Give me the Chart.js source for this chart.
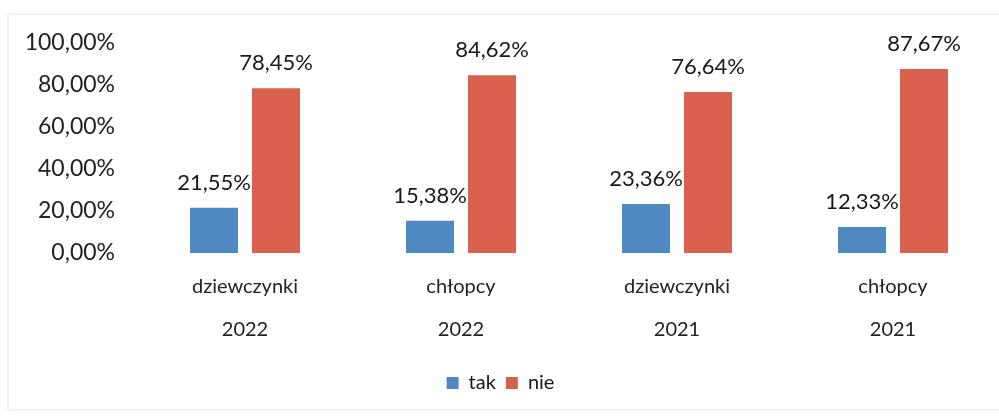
<!DOCTYPE html>
<html>
<head>
<meta charset="utf-8">
<script src="https://cdn.jsdelivr.net/npm/chart.js@4.4.1/dist/chart.umd.min.js"></script>
<style>
  html, body { margin: 0; padding: 0; background: #fff; overflow: hidden; width: 999px; height: 418px; }
  #frame { position: absolute; left: 7px; top: 13px; width: 1100px; height: 398px; border-left: 2px solid #f0f0f0; border-top: 2px solid #f3f3f3; border-bottom: 2px solid #f3f3f3; box-sizing: border-box; }
  #wrap { position: absolute; left: 0; top: 0; width: 1044px; height: 418px; }
</style>
</head>
<body>
<div id="frame"></div>
<div id="wrap"><canvas id="c" width="1044" height="418"></canvas></div>
<script>
const categories = [["dziewczynki", "2022"], ["chłopcy", "2022"], ["dziewczynki", "2021"], ["chłopcy", "2021"]];
const seriesNames = ["tak", "nie"];
const takValues = [21.55, 15.38, 23.36, 12.33];
const nieValues = [78.45, 84.62, 76.64, 87.67];
const yTicks = [0, 20, 40, 60, 80, 100];

const FONT = "Lato, 'Open Sans', sans-serif";
const fmt = v => v.toFixed(2).replace('.', ',') + '%';

const dataLabels = {
  id: 'dataLabels',
  afterDatasetsDraw(chart) {
    const ctx = chart.ctx;
    ctx.save();
    ctx.font = "22px " + FONT;
    ctx.fillStyle = '#181818';
    ctx.textAlign = 'center';
    ctx.textBaseline = 'middle';
    chart.data.datasets.forEach((ds, i) => {
      chart.getDatasetMeta(i).data.forEach((bar, j) => {
        ctx.fillText(fmt(ds.data[j]), bar.x, bar.y - 25);
      });
    });
    ctx.restore();
  }
};

new Chart(document.getElementById('c'), {
  type: 'bar',
  data: {
    labels: categories,
    datasets: [
      { label: seriesNames[0], data: takValues, backgroundColor: '#4f89c1', barPercentage: 0.774, categoryPercentage: 0.574 },
      { label: seriesNames[1], data: nieValues, backgroundColor: '#d9604d', barPercentage: 0.774, categoryPercentage: 0.574 }
    ]
  },
  options: {
    responsive: false,
    animation: false,
    events: [],
    layout: { padding: { top: 43, right: 43, bottom: 15, left: 0 } },
    scales: {
      x: {
        grid: { display: false, drawTicks: false },
        border: { display: false },
        ticks: { color: '#222', font: { size: 20, family: FONT, lineHeight: 2.15 }, padding: 12, maxRotation: 0 }
      },
      y: {
        min: 0, max: 100,
        afterBuildTicks(scale) { scale.ticks = yTicks.map(v => ({ value: v })); },
        afterFit(scale) { scale.width = 137; },
        grid: { display: false, drawTicks: false },
        border: { display: false },
        ticks: { color: '#222', font: { size: 23, family: FONT }, padding: 22, callback: v => fmt(v) }
      }
    },
    plugins: {
      legend: {
        position: 'bottom',
        labels: { boxWidth: 12, boxHeight: 12, padding: 10, color: '#181818', font: { size: 20, family: FONT } }
      },
      tooltip: { enabled: false }
    }
  },
  plugins: [dataLabels]
});
</script>
</body>
</html>
